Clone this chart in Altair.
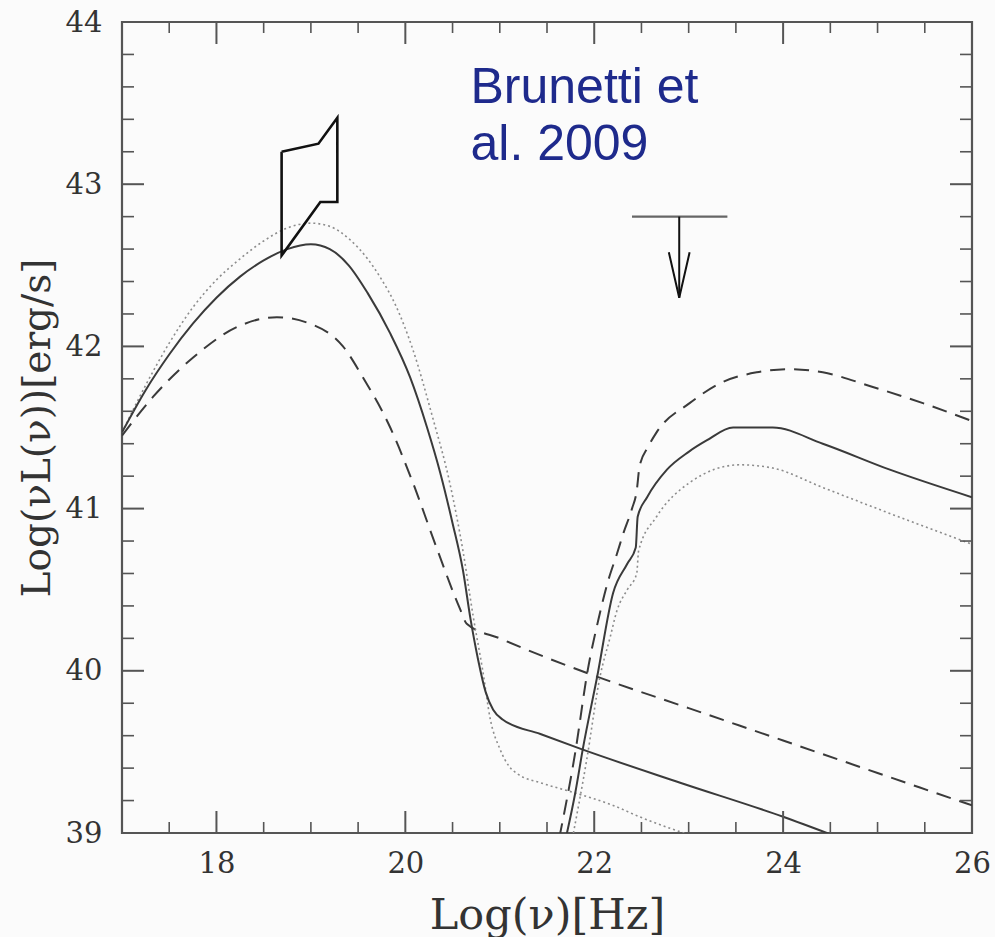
import altair as alt
import pandas as pd

# ---------------- data ----------------
# Low-energy hump (synchrotron-like) + its power-law tail
solid_low_x = [17.0, 17.25, 17.5, 17.75, 18.0, 18.25, 18.5, 18.75, 19.0, 19.2, 19.4, 19.6, 19.84,
               20.05, 20.23, 20.37, 20.5, 20.61, 20.69, 20.77, 20.85, 20.93, 21.03, 21.43, 21.85,
               22.91, 24.0, 24.6]
solid_low_y = [41.47, 41.73, 41.95, 42.14, 42.30, 42.43, 42.53, 42.60, 42.63, 42.60, 42.50, 42.33,
               42.08, 41.81, 41.50, 41.22, 40.91, 40.62, 40.32, 40.07, 39.87, 39.76, 39.70, 39.61,
               39.52, 39.31, 39.10, 38.97]

dotted_low_x = [17.0, 17.25, 17.5, 17.75, 18.0, 18.25, 18.5, 18.75, 19.0, 19.2, 19.41, 19.6, 19.73,
                19.9, 20.08, 20.29, 20.47, 20.61, 20.72, 20.82, 20.9, 21.0, 21.1, 21.2, 21.43, 21.78,
                22.2, 22.48, 23.1]
dotted_low_y = [41.47, 41.76, 42.02, 42.24, 42.41, 42.54, 42.65, 42.73, 42.76, 42.74, 42.66, 42.54,
                42.43, 42.25, 41.98, 41.56, 41.16, 40.74, 40.33, 40.0, 39.70, 39.52, 39.41, 39.36,
                39.31, 39.25, 39.17, 39.10, 38.97]

dashed_low_x = [17.0, 17.33, 17.75, 18.22, 18.64, 18.99, 19.34, 19.55, 19.84, 20.08, 20.33, 20.58,
                20.65, 21.0, 21.5, 22.0, 23.0, 24.0, 25.0, 26.0]
dashed_low_y = [41.45, 41.69, 41.93, 42.12, 42.18, 42.14, 42.0, 41.81, 41.50, 41.16, 40.76, 40.38,
                40.29, 40.20, 40.08, 39.97, 39.77, 39.57, 39.37, 39.17]

# High-energy hump
solid_high_x = [21.70, 21.80, 21.88, 22.03, 22.20, 22.35, 22.44, 22.46, 22.56, 22.77, 23.0, 23.19,
                23.47, 23.89, 24.42, 25.13, 26.0]
solid_high_y = [38.97, 39.25, 39.52, 39.96, 40.48, 40.66, 40.76, 40.95, 41.07, 41.24, 41.35, 41.42,
                41.50, 41.50, 41.40, 41.24, 41.07]

dashed_high_x = [21.63, 21.80, 21.93, 22.05, 22.14, 22.24, 22.31, 22.40, 22.45, 22.48, 22.57, 22.66,
                 23.01, 23.36, 23.72, 24.07, 24.42, 24.95, 25.48, 26.0]
dashed_high_y = [38.97, 39.50, 40.0, 40.33, 40.54, 40.72, 40.85, 41.0, 41.11, 41.26, 41.38, 41.47,
                 41.65, 41.78, 41.84, 41.86, 41.84, 41.75, 41.65, 41.54]

dotted_high_x = [21.77, 21.92, 22.06, 22.17, 22.24, 22.35, 22.45, 22.47, 22.66, 23.01, 23.54, 23.89,
                 24.42, 25.13, 26.0]
dotted_high_y = [38.97, 39.45, 39.96, 40.21, 40.37, 40.50, 40.60, 40.74, 40.95, 41.16, 41.27, 41.25,
                 41.13, 40.97, 40.78]

# X-ray bow-tie
bowtie_x = [18.69, 19.08, 19.28, 19.28, 19.10, 18.69, 18.69]
bowtie_y = [43.20, 43.25, 43.41, 42.89, 42.89, 42.56, 43.20]

# gamma-ray upper limit
ul_bar_x = [22.40, 23.41]
ul_bar_y = [42.80, 42.80]
ul_arrow_x = [22.90, 22.90]
ul_arrow_y = [42.80, 42.30]
ul_head_x = [22.79, 22.90, 23.01]
ul_head_y = [42.58, 42.30, 42.58]

# annotation
note_x = [20.69, 20.69]
note_y = [43.50, 43.15]
note_text = ["Brunetti et", "al. 2009"]

# axes
x_labels = [18, 20, 22, 24, 26]
y_labels = [39, 40, 41, 42, 43, 44]
x_major_ticks = [18, 20, 22, 24]
x_minor_ticks = [17.5, 18.5, 19, 19.5, 20.5, 21, 21.5, 22.5, 23, 23.5, 24.5, 25, 25.5]
y_major_ticks = [40, 41, 42, 43]
y_minor_ticks = [39.2, 39.4, 39.6, 39.8, 40.2, 40.4, 40.6, 40.8, 41.2, 41.4, 41.6, 41.8,
                 42.2, 42.4, 42.6, 42.8, 43.2, 43.4, 43.6, 43.8]

# ---------------- chart ----------------
W, H = 850, 811
SERIF = "DejaVu Serif"
INK = "#3a3a3a"

xsc = alt.Scale(domain=[17, 26], nice=False, zero=False)
ysc = alt.Scale(domain=[39, 44], nice=False, zero=False)

x_axis = alt.Axis(values=x_labels, ticks=False, domain=False, grid=False,
                  labelFont=SERIF, labelFontSize=29, labelColor="#333", labelPadding=16,
                  labelOverlap=False, labelFlush=False,
                  title="Log(ν)[Hz]", titleFont=SERIF, titleFontSize=43,
                  titleFontWeight="normal", titleColor="#333", titlePadding=16)
y_axis = alt.Axis(values=y_labels, ticks=False, domain=False, grid=False,
                  labelFont=SERIF, labelFontSize=29, labelColor="#333", labelPadding=20,
                  labelOverlap=False, labelFlush=False,
                  title="Log(νL(ν))[erg/s]", titleFont=SERIF, titleFontSize=39,
                  titleFontWeight="normal", titleColor="#333", titlePadding=8)


def X(field="x"):
    return alt.X(f"{field}:Q", scale=xsc, axis=x_axis)


def Y(field="y"):
    return alt.Y(f"{field}:Q", scale=ysc, axis=y_axis)


def df(xs, ys):
    return pd.DataFrame({"x": xs, "y": ys, "i": list(range(len(xs)))})


def curve(xs, ys, color=INK, width=2.0, dash=None, interp="monotone"):
    kw = dict(clip=True, interpolate=interp, color=color, strokeWidth=width)
    if dash is not None:
        kw["strokeDash"] = dash
    return alt.Chart(df(xs, ys)).mark_line(**kw).encode(x=X(), y=Y(), order="i:Q")


DASH = [15, 9]
DOT = [2, 3]
DOTC = "#8c8c8c"

layers = [
    curve(dashed_low_x, dashed_low_y, dash=DASH),
    curve(dotted_low_x, dotted_low_y, color=DOTC, width=1.6, dash=DOT),
    curve(solid_low_x, solid_low_y),
    curve(dashed_high_x, dashed_high_y, dash=DASH),
    curve(dotted_high_x, dotted_high_y, color=DOTC, width=1.6, dash=DOT),
    curve(solid_high_x, solid_high_y),
    curve(bowtie_x, bowtie_y, color="#111", width=2.6, interp="linear"),
    curve(ul_bar_x, ul_bar_y, color="#666", width=2.2, interp="linear"),
    curve(ul_arrow_x, ul_arrow_y, color="#111", width=2.0, interp="linear"),
    curve(ul_head_x, ul_head_y, color="#111", width=2.0, interp="linear"),
]


# inward ticks on all four sides
def ticks_x(vals, length, width, top):
    d = pd.DataFrame({"x": vals})
    if top:
        enc = dict(y=alt.value(0), y2=alt.value(length))
    else:
        enc = dict(y=alt.value(H), y2=alt.value(H - length))
    return alt.Chart(d).mark_rule(color="#555", strokeWidth=width).encode(x=X(), **enc)


def ticks_y(vals, length, width, right):
    d = pd.DataFrame({"y": vals})
    if right:
        enc = dict(x=alt.value(W), x2=alt.value(W - length))
    else:
        enc = dict(x=alt.value(0), x2=alt.value(length))
    return alt.Chart(d).mark_rule(color="#555", strokeWidth=width).encode(y=Y(), **enc)


for top in (False, True):
    layers.append(ticks_x(x_major_ticks, 22, 2, top))
    layers.append(ticks_x(x_minor_ticks, 11, 1.6, top))
for right in (False, True):
    layers.append(ticks_y(y_major_ticks, 22, 2, right))
    layers.append(ticks_y(y_minor_ticks, 12, 1.6, right))

note = alt.Chart(pd.DataFrame({"x": note_x, "y": note_y, "t": note_text})).mark_text(
    align="left", baseline="alphabetic", font="Liberation Sans", fontSize=50, color="#1e2a8c"
).encode(x=X(), y=Y(), text="t:N")
layers.append(note)

chart = alt.layer(*layers).properties(
    width=W, height=H,
    autosize=alt.AutoSizeParams(type="none"),
    padding={"left": 122, "top": 22, "right": 23, "bottom": 104},
    background="#fbfbfb",
).configure_view(stroke="#555", strokeWidth=2.2)

chart.save("out.html", embed_options={"renderer": "svg", "actions": False})
